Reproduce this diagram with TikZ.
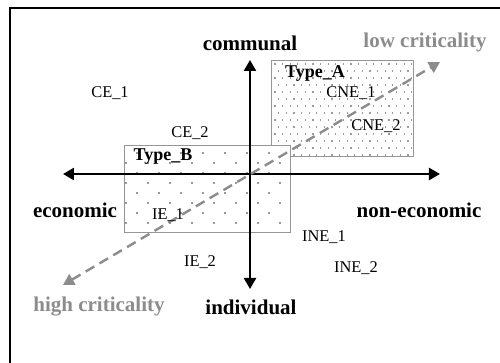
\documentclass[tikz,border=0pt]{standalone}
\usepackage{fontspec}
\setmainfont{Liberation Serif}
\usetikzlibrary{arrows.meta}
\definecolor{critgray}{RGB}{140,140,140}
\definecolor{boxgray}{RGB}{150,150,150}
\definecolor{dotgray}{RGB}{155,155,155}
\tikzset{
  axislab/.style={font=\fontsize{10.5}{12}\selectfont\bfseries, inner sep=0pt},
  critlab/.style={font=\fontsize{10.5}{12}\selectfont\bfseries, text=critgray, inner sep=0pt},
  itemlab/.style={font=\fontsize{8.2}{9}\selectfont, inner sep=0pt},
  typelab/.style={font=\fontsize{9}{10}\selectfont\bfseries, inner sep=0pt},
  axisline/.style={line width=1.25pt, {Triangle[length=5.5pt,width=6pt]}-{Triangle[length=5.5pt,width=6pt]}},
  critline/.style={critgray, line width=1.2pt, dash pattern=on 5pt off 3pt, {Triangle[length=5.5pt,width=6pt]}-{Triangle[length=5.5pt,width=6pt]}},
  boxline/.style={draw=boxgray, line width=0.5pt},
  frameline/.style={line width=0.6pt},
  dot/.style={fill=dotgray}
}
\begin{document}
\begin{tikzpicture}[x=0.5pt,y=-0.5pt]
\useasboundingbox (0,0) rectangle (500,363);
% frame
\coordinate (FB) at (10,364);
\coordinate (FC) at (10,8);
\coordinate (FR) at (501,8);
\draw[frameline] (FB) -- (FC) -- (FR);
% Type A box
\coordinate (A1) at (272,61);
\coordinate (A2) at (414,157);
\fill[white] (A1) rectangle (A2);
\begin{scope}
\clip (A1) rectangle (A2);
\foreach \k in {0,...,14}{
  \pgfmathsetmacro{\yy}{64+7*\k}
  \pgfmathsetmacro{\off}{mod(\k,2)*3.8}
  \foreach \j in {0,...,19}{
    \fill[dot] (275+7.6*\j+\off-0.6,\yy-0.6) rectangle ++(1.2,1.2);
  }
}
\end{scope}
\draw[boxline] (A1) rectangle (A2);
% Type B box
\coordinate (B1) at (125,146);
\coordinate (B2) at (291,233);
\fill[white] (B1) rectangle (B2);
\begin{scope}
\clip (B1) rectangle (B2);
\foreach \k in {0,...,9}{
  \pgfmathsetmacro{\yy}{153+10*\k-10}
  \pgfmathsetmacro{\off}{mod(\k,2)*11}
  \foreach \j in {0,...,8}{
    \fill[dot] (126+22*\j+\off-0.6,\yy-0.6) rectangle ++(1.2,1.2);
  }
}
\end{scope}
\draw[boxline] (B1) rectangle (B2);
% axes
\coordinate (L) at (63,174);
\coordinate (R) at (440,174);
\coordinate (T) at (250,60);
\coordinate (Bt) at (250,289);
\draw[axisline] (L) -- (R);
\draw[axisline] (Bt) -- (T);
% criticality
\coordinate (HC) at (63,285);
\coordinate (LC) at (440,62);
\draw[critline] (HC) -- (LC);
% labels
\node[axislab] (communal) at (250,43) {communal};
\node[axislab] (individual) at (251,307) {individual};
\node[axislab] (economic) at (75,210) {economic};
\node[axislab] (noneconomic) at (419,210) {non-economic};
\node[critlab] (low) at (425,42) {low criticality};
\node[critlab] (high) at (99,307) {high criticality};
\node[typelab] (typeA) at (315,74) {Type\_A};
\node[typelab] (typeB) at (163,157) {Type\_B};
\node[itemlab] (ce1) at (110,93) {CE\_1};
\node[itemlab] (ce2) at (190,133) {CE\_2};
\node[itemlab] (cne1) at (351,93) {CNE\_1};
\node[itemlab] (cne2) at (376,126) {CNE\_2};
\node[itemlab] (ie1) at (168,215) {IE\_1};
\node[itemlab] (ie2) at (200,262) {IE\_2};
\node[itemlab] (ine1) at (324,237) {INE\_1};
\node[itemlab] (ine2) at (356,268) {INE\_2};
\end{tikzpicture}
\end{document}
